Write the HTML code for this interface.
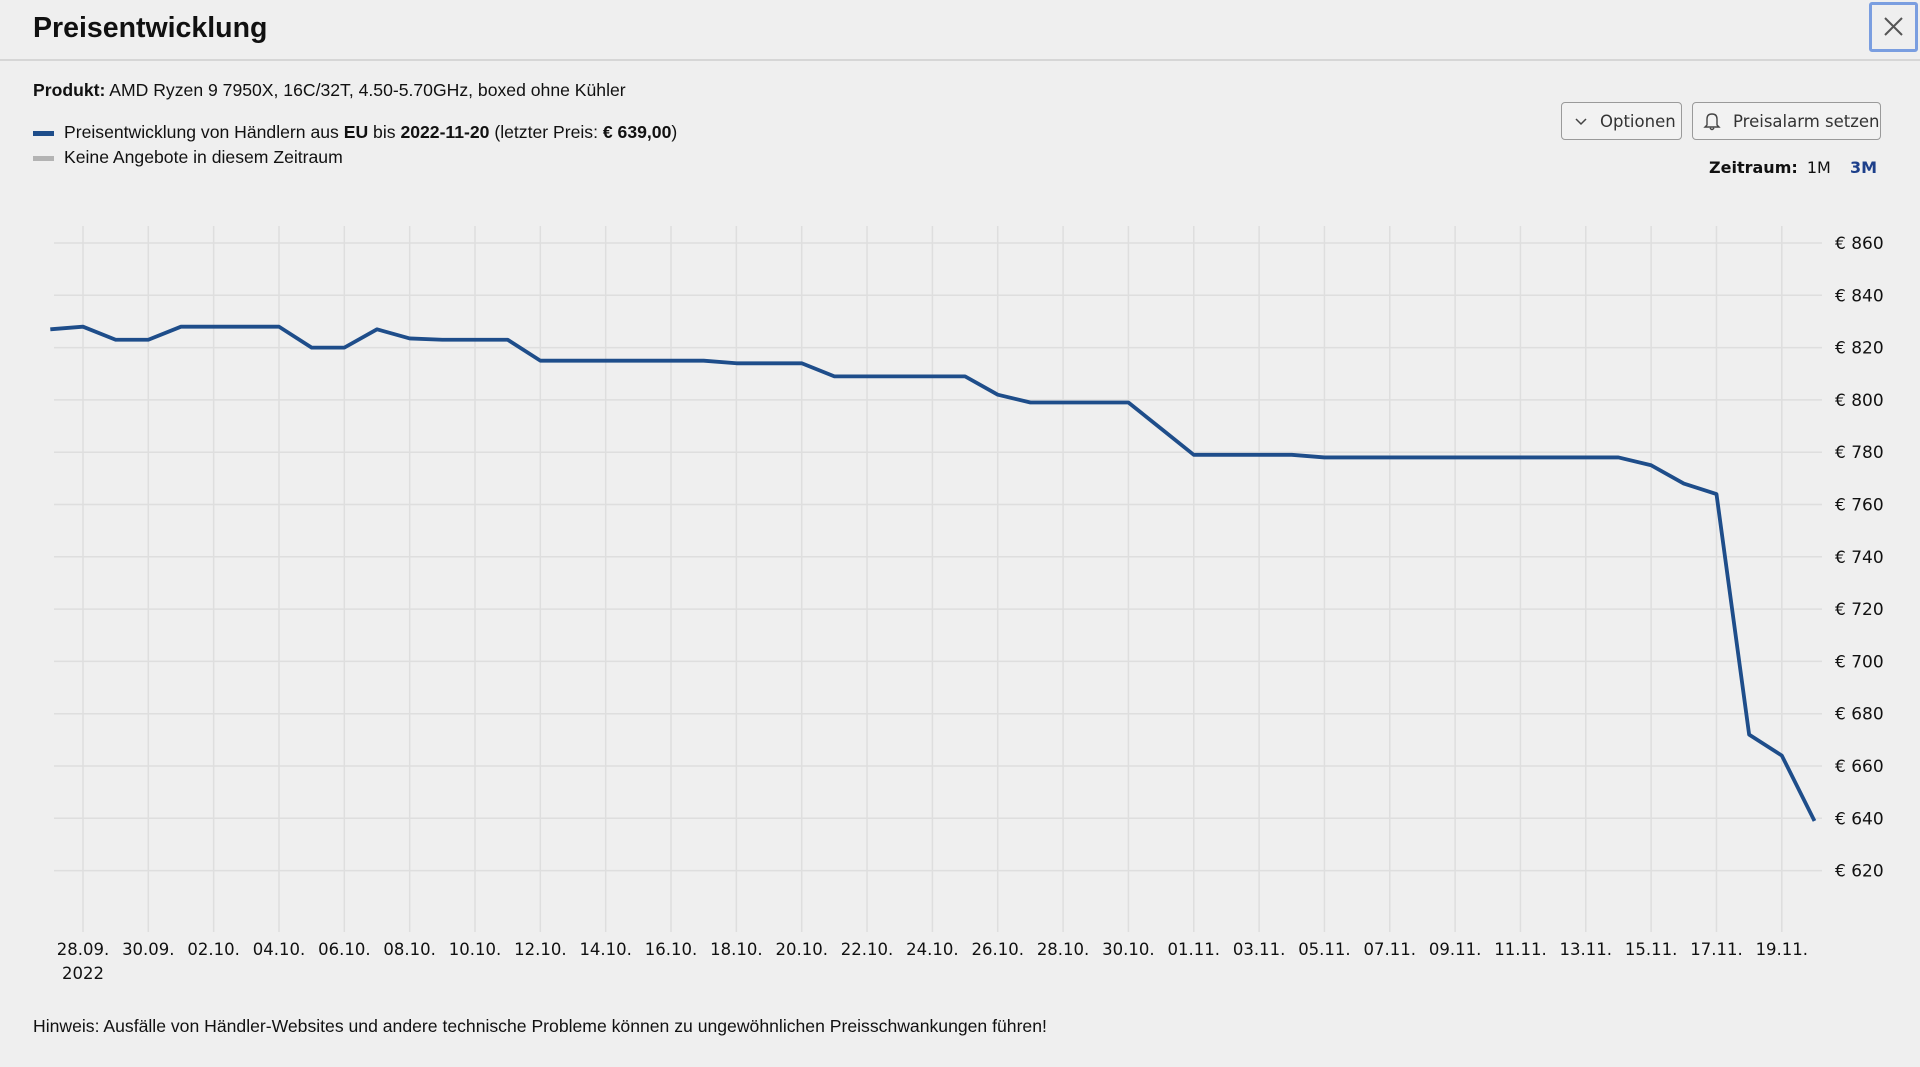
<!DOCTYPE html>
<html><head><meta charset="utf-8"><style>
html,body{margin:0;padding:0;background:#efefef;width:1920px;height:1067px;overflow:hidden;font-family:"Liberation Sans","DejaVu Sans",sans-serif;color:#111}
.abs{position:absolute;white-space:nowrap}
.btn{position:absolute;border:1.5px solid #9a9a9a;border-radius:4px;background:#f2f2f2;font-size:16.5px;display:flex;align-items:center;box-sizing:border-box;font-family:"DejaVu Sans",sans-serif;color:#333;white-space:nowrap}
</style></head><body>
<div class="abs" style="left:33px;top:12px;font-size:28.5px;font-weight:bold;">Preisentwicklung</div>
<div class="abs" style="left:1869px;top:2px;width:49px;height:50px;border:3px solid #7a9ee0;box-sizing:border-box;border-radius:3px;">
<svg width="43" height="44" viewBox="0 0 43 44"><path d="M13 13 L30 30 M30 13 L13 30" stroke="#555" stroke-width="2"/></svg></div>
<div class="abs" style="left:0;top:59px;width:1920px;height:2px;background:#d6d6d6"></div>
<div class="abs" style="left:33px;top:80px;font-size:17.6px;"><b>Produkt:</b> AMD Ryzen 9 7950X, 16C/32T, 4.50-5.70GHz, boxed ohne Kühler</div>
<div class="abs" style="left:33px;top:122px;font-size:17.6px;"><span style="display:inline-block;width:21px;height:5px;background:#1e4d8a;vertical-align:middle;margin-right:10px"></span>Preisentwicklung von Händlern aus <b>EU</b> bis <b>2022-11-20</b> (letzter Preis: <b>€ 639,00</b>)</div>
<div class="abs" style="left:33px;top:147px;font-size:17.6px;"><span style="display:inline-block;width:21px;height:5px;background:#b3b3b3;vertical-align:middle;margin-right:10px"></span>Keine Angebote in diesem Zeitraum</div>
<div class="btn" style="left:1561px;top:102px;width:121px;height:38px;padding-left:12px;"><svg width="14" height="10" style="margin-right:12px"><path d="M2 3 L7 8 L12 3" stroke="#444" stroke-width="1.5" fill="none"/></svg>Optionen</div>
<div class="btn" style="left:1692px;top:102px;width:189px;height:38px;padding-left:10px;"><svg width="18" height="20" style="margin-right:12px"><path d="M4 14 L4 8 Q4 3 9 3 Q14 3 14 8 L14 14 L16 16 L2 16 Z M7 17 Q9 20 11 17" stroke="#444" stroke-width="1.4" fill="none"/></svg>Preisalarm setzen</div>
<div class="abs" style="right:43px;top:158px;font-size:16px;font-family:'DejaVu Sans',sans-serif;"><b>Zeitraum:</b> <span style="margin-left:4px">1M</span> <span style="margin-left:14px;color:#1d3f8a;font-weight:bold">3M</span></div>
<svg class="abs" style="left:0;top:0" width="1920" height="1067" id="chart" font-family="DejaVu Sans, sans-serif"></svg>
<div class="abs" style="left:33px;top:1016px;font-size:17.6px;">Hinweis: Ausfälle von Händler-Websites und andere technische Probleme können zu ungewöhnlichen Preisschwankungen führen!</div>
<script>
const days = [0,1,2,3,4,5,6,7,8,9,10,11,12,13,14,15,16,17,18,19,20,21,22,23,24,25,26,27,28,29,30,31,32,33,34,35,36,37,38,39,40,41,42,43,44,45,46,47,48,49,50,51,52,53,54];
const prices = [827,828,823,823,828,828,828,828,820,820,827,823.5,823,823,823,815,815,815,815,815,815,814,814,814,809,809,809,809,809,802,799,799,799,799,789,779,779,779,779,778,778,778,778,778,778,778,778,778,778,775,768,764,672,664,639];
const yTicks = [860,840,820,800,780,760,740,720,700,680,660,640,620];
const xTickDays = [1,3,5,7,9,11,13,15,17,19,21,23,25,27,29,31,33,35,37,39,41,43,45,47,49,51,53];
const xTickLabels = ["28.09.","30.09.","02.10.","04.10.","06.10.","08.10.","10.10.","12.10.","14.10.","16.10.","18.10.","20.10.","22.10.","24.10.","26.10.","28.10.","30.10.","01.11.","03.11.","05.11.","07.11.","09.11.","11.11.","13.11.","15.11.","17.11.","19.11."];
const NS="http://www.w3.org/2000/svg";
const svg=document.getElementById('chart');
const X=d=>50.3+d*32.67;
const Y=v=>243+(860-v)/20*52.3;
function mk(t,a){const e=document.createElementNS(NS,t);for(const k in a)e.setAttribute(k,a[k]);svg.appendChild(e);return e;}
yTicks.forEach(v=>{
 const l=mk('line',{x1:54,x2:1822,y1:Y(v),y2:Y(v),stroke:'#dedede','stroke-width':1.5});
 
 
 const t=mk('text',{x:1835,y:Y(v)+6,'font-size':17,fill:'#111'});
 t.textContent='€ '+v;
 
 
});
xTickDays.forEach((d,i)=>{
 const l=mk('line',{x1:X(d),x2:X(d),y1:226,y2:932,stroke:'#dedede','stroke-width':1.5});
 
 
 const t=mk('text',{x:X(d),y:955,'font-size':16.5,fill:'#111','text-anchor':'middle'});
 t.textContent=xTickLabels[i];
 
 
});
const yr=mk('text',{x:X(xTickDays[0]),y:979,'font-size':16.5,fill:'#111','text-anchor':'middle'});
yr.textContent='2022';


const p=mk('polyline',{points:days.map((d,i)=>X(d)+','+Y(prices[i])).join(' '),fill:'none',stroke:'#1e4d8a','stroke-width':3.8,'stroke-linejoin':'round'});


</script>
</body></html>
